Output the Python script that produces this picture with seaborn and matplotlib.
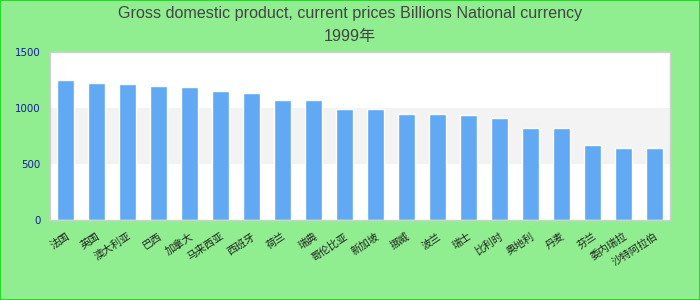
import matplotlib
matplotlib.use("Agg")
import matplotlib.pyplot as plt
import seaborn as sns
import pandas as pd
from matplotlib.patches import Rectangle

categories = ["法国", "英国", "澳大利亚", "巴西", "加拿大", "马来西亚", "西班牙", "荷兰", "瑞典", "哥伦比亚",
              "新加坡", "挪威", "波兰", "瑞士", "比利时", "奥地利", "丹麦", "芬兰", "委内瑞拉", "沙特阿拉伯"]
values = [1248, 1221, 1212, 1194, 1185, 1150, 1132, 1069, 1069, 989,
          989, 944, 944, 936, 909, 820, 820, 668, 641, 641]
y_ticks = [0, 500, 1000, 1500]
title_main = "Gross domestic product, current prices Billions National currency"
title_year = "1999年"

sns.set_style("white")
plt.rcParams["font.family"] = ["Noto Sans CJK SC", "DejaVu Sans"]

df = pd.DataFrame({"category": categories, "value": values})

fig = plt.figure(figsize=(7, 3), dpi=100, facecolor="#90ee90")
fig.patches.append(Rectangle((0, 0), 1, 1, transform=fig.transFigure, fill=False,
                             edgecolor="#22dd22", linewidth=1.5, zorder=10))
ax = fig.add_axes([50 / 700, (300 - 220) / 300, 620 / 700, (220 - 51.7) / 300])
ax.set_facecolor("white")

ax.axhspan(500, 1000, color="#f3f3f3", zorder=0, linewidth=0)

sns.barplot(data=df, x="category", y="value", color="#62a9f4", saturation=1,
            width=0.54, ax=ax, zorder=2)

ax.set_xlim(-0.5, len(categories) - 0.5)
ax.set_ylim(0, 1500)
ax.set_yticks(y_ticks)
ax.set_yticklabels([str(t) for t in y_ticks], color="#1a1a9a", fontsize=7.4,
                   family=["DejaVu Sans"])
ax.tick_params(axis="y", length=0, pad=7)
ax.tick_params(axis="x", length=0, pad=8)
ax.set_xticks(range(len(categories)))
ax.set_xticklabels(categories, rotation=33, ha="right", rotation_mode="anchor",
                   fontsize=7.5, color="#222222")
ax.set_xlabel("")
ax.set_ylabel("")
for s in ax.spines.values():
    s.set_color("#d0d0d0")
    s.set_linewidth(1)

fig.text(0.5, 1 - 13.5 / 300, title_main, ha="center", va="center", fontsize=11.6,
         color="#444444", family=["Liberation Sans", "DejaVu Sans"])
fig.text(0.5, 1 - 36.5 / 300, title_year, ha="center", va="center", fontsize=11.6,
         color="#444444", family=["Liberation Sans", "Noto Sans CJK SC"])

fig.savefig("out.png", dpi=100, facecolor=fig.get_facecolor())
